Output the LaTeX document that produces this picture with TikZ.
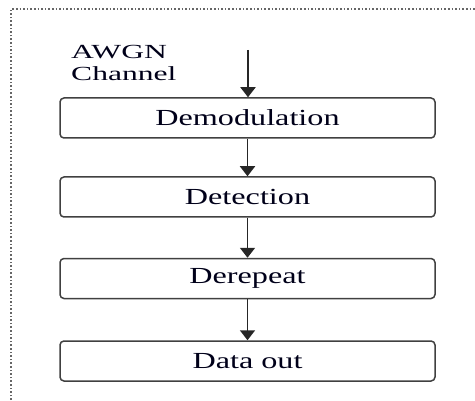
\documentclass[tikz,border=0pt]{standalone}
\usepackage{fontspec}
\setmainfont{Liberation Serif}
\usetikzlibrary{arrows.meta}
\tikzset{
  blk/.style={draw=black!75, line width=1.5pt, rounded corners=4pt, minimum width=375pt, minimum height=40pt, inner sep=0pt, font=\fontsize{23}{26}\selectfont, text=black!90!blue},
  flow/.style={draw=black!85, line width=1.8pt, -{Triangle[length=10pt,width=15pt]}},
  frame/.style={draw=black!60, line width=1.6pt, dotted}
}
\newcommand{\wx}[1]{\scalebox{1.4}[1]{#1}}
\newcommand{\wl}[1]{\scalebox{1.58}[1]{#1}}
\begin{document}
\begin{tikzpicture}[x=1pt,y=1pt]
\useasboundingbox (0,0) rectangle (475,400);
\draw[frame] (11,0) -- (11,391) -- (475,391);
\node[blk] (demod) at (247.5,282) {\wx{Demodulation}};
\node[blk] (detect) at (247.5,203) {\wx{Detection}};
\node[blk] (derep) at (247.5,121.5) {\wx{Derepeat}};
\node[blk] (dout) at (247.5,39) {\wx{Data out}};
\node[align=left, inner sep=0pt, anchor=west, font=\fontsize{20}{22}\selectfont, text=black!90!blue] (awgn) at (71,337) {\wl{AWGN}\\\wl{Channel}};
\coordinate (in) at (248,350);
\draw[flow] (in) -- (in |- demod.north);
\draw[flow] (demod) -- (detect);
\draw[flow] (detect) -- (derep);
\draw[flow] (derep) -- (dout);
\end{tikzpicture}
\end{document}
